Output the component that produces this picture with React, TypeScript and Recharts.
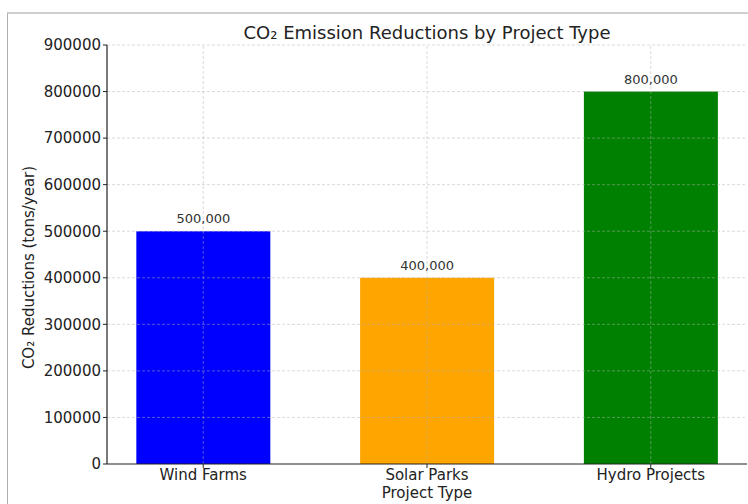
import React from 'react';
import { BarChart, Bar, XAxis, YAxis, ReferenceLine, LabelList, Label, Cell } from 'recharts';

const categories = ['Wind Farms', 'Solar Parks', 'Hydro Projects'];
const reductions = [500000, 400000, 800000];
const barColors = ['#0000ff', '#ffa500', '#008000'];
const yTicks = [0, 100000, 200000, 300000, 400000, 500000, 600000, 700000, 800000, 900000];
const xPositions = [0, 1, 2];

const data = categories.map((name, i) => ({ idx: xPositions[i], name, value: reductions[i] }));

const FONT = '"DejaVu Sans", sans-serif';
const gridProps = { stroke: '#b0b0b0', strokeOpacity: 0.6, strokeDasharray: '3 2', strokeWidth: 0.8 };

export default function App() {
  return (
    <div style={{ position: 'absolute', left: 0, top: 0, width: 748, height: 504, fontFamily: FONT, background: '#fff', overflow: 'hidden' }}>
      <div style={{ position: 'absolute', left: 0, top: 0 }}>
        <BarChart width={748} height={504} data={data} margin={{ top: 45, right: 1, bottom: 0, left: 7 }}>
          <XAxis
            dataKey="idx"
            type="number"
            domain={[-0.43, 2.43]}
            ticks={xPositions}
            allowDataOverflow
            tickFormatter={(v: number) => categories[v]}
            height={40}
            axisLine={{ stroke: '#222', strokeWidth: 1.2 }}
            tickLine={{ stroke: '#222' }}
            tickSize={4}
            tickMargin={1}
            tick={{ fill: '#222', fontSize: 15, fontFamily: FONT }}
          >
            <Label
              content={(props: any) => {
                const vb = props.viewBox;
                return (
                  <text x={vb.x + vb.width / 2} y={vb.y + 34} textAnchor="middle" fontSize={15} fill="#222" fontFamily={FONT}>
                    Project Type
                  </text>
                );
              }}
            />
          </XAxis>
          <YAxis
            type="number"
            domain={[0, 900000]}
            ticks={yTicks}
            width={100}
            interval={0}
            axisLine={{ stroke: '#222', strokeWidth: 1.2 }}
            tickLine={{ stroke: '#222' }}
            tickSize={4}
            tickMargin={2}
            tick={{ fill: '#222', fontSize: 15, fontFamily: FONT }}
          >
            <Label
              content={(props: any) => {
                const vb = props.viewBox;
                const cx = vb.x + 27;
                const cy = vb.y + vb.height / 2 + 13;
                return (
                  <text x={cx} y={cy} transform={`rotate(-90, ${cx}, ${cy})`} textAnchor="middle" fontSize={15} fill="#222" fontFamily={FONT}>
                    CO₂ Reductions (tons/year)
                  </text>
                );
              }}
            />
          </YAxis>
          <Bar dataKey="value" barSize={134} isAnimationActive={false}>
            {data.map((d, i) => (
              <Cell key={d.name} fill={barColors[i]} />
            ))}
            <LabelList
              dataKey="value"
              position="top"
              offset={8}
              formatter={(v: number) => v.toLocaleString('en-US')}
              fill="#333"
              fontSize={13}
              fontFamily={FONT}
            />
          </Bar>
          {yTicks.slice(1).map((t) => (
            <ReferenceLine key={'h' + t} y={t} {...gridProps} />
          ))}
          {xPositions.map((x) => (
            <ReferenceLine key={'v' + x} x={x} {...gridProps} />
          ))}
        </BarChart>
      </div>
      <div style={{ position: 'absolute', left: 7, top: 12, width: 760, height: 520, borderTop: '2px solid #cfcfcf', borderLeft: '1px solid #b0b0b0', boxSizing: 'border-box', pointerEvents: 'none' }} />
      <div style={{ position: 'absolute', left: 107, width: 640, top: 23, textAlign: 'center', fontSize: 18, color: '#222', lineHeight: '20px', whiteSpace: 'nowrap' }}>
        CO₂ Emission Reductions by Project Type
      </div>
    </div>
  );
}
